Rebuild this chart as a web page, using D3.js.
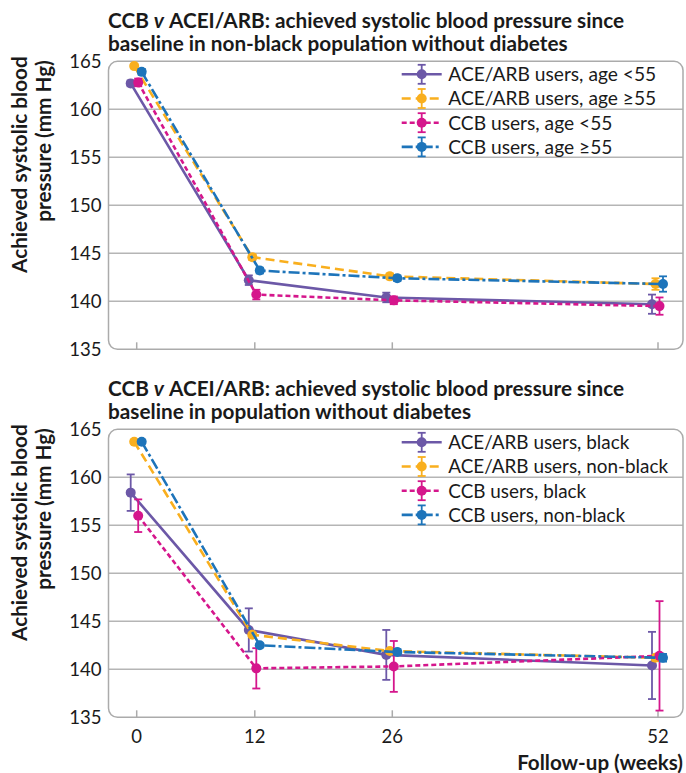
<!DOCTYPE html>
<html>
<head>
<meta charset="utf-8">
<script src="https://cdn.jsdelivr.net/npm/d3@7"></script>
<style>
  html, body { margin: 0; padding: 0; background: #fff; }
  svg { display: block; }
</style>
</head>
<body>
<script>
// ---------- data ----------
const weeks = [0, 12, 26, 52];
const yTicks = [135, 140, 145, 150, 155, 160, 165];

// Panel 1: non-black population without diabetes, by age
const topNames = ["ACE/ARB users, age <55", "ACE/ARB users, age \u226555", "CCB users, age <55", "CCB users, age \u226555"];
const topAceYoung     = [162.7, 142.2, 140.4, 139.7];
const topAceYoungErr  = [0.3, 0.5, 0.5, 1.0];
const topAceOld       = [164.5, 144.6, 142.6, 141.8];
const topAceOldErr    = [0.2, 0.3, 0.3, 0.6];
const topCcbYoung     = [162.8, 140.7, 140.1, 139.5];
const topCcbYoungErr  = [0.4, 0.5, 0.4, 0.9];
const topCcbOld       = [163.9, 143.2, 142.4, 141.8];
const topCcbOldErr    = [0.3, 0.3, 0.3, 0.8];

// Panel 2: population without diabetes, by ethnicity
const botNames = ["ACE/ARB users, black", "ACE/ARB users, non-black", "CCB users, black", "CCB users, non-black"];
const botAceBlack        = [158.4, 144.1, 141.5, 140.4];
const botAceBlackErr     = [1.9, 2.25, 2.6, 3.5];
const botAceNonBlack     = [163.7, 143.6, 141.9, 141.2];
const botAceNonBlackErr  = [0.2, 0.2, 0.2, 0.3];
const botCcbBlack        = [156.0, 140.1, 140.3, 141.4];
const botCcbBlackErr     = [1.7, 2.1, 2.65, 5.7];
const botCcbNonBlack     = [163.7, 142.5, 141.8, 141.2];
const botCcbNonBlackErr  = [0.2, 0.2, 0.3, 0.4];

const titleStart = ["CCB", "v", "ACEI/ARB: achieved systolic blood pressure since"];
const topTitle = "baseline in non-black population without diabetes";
const botTitle = "baseline in population without diabetes";
const yTitle = ["Achieved systolic blood", "pressure (mm Hg)"];
const xTitle = "Follow-up (weeks)";

// ---------- styles ----------
const styles = [
  { color: "#6C58A7", dash: null,       dodge: -5.5 },
  { color: "#F9AF1E", dash: "9,5",      dodge: -2 },
  { color: "#D5168C", dash: "5,3",      dodge: 2 },
  { color: "#1D74BA", dash: "11,3,3,3", dodge: 5.5 }
];

const panels = [
  { top: 61.3, title2: topTitle, names: topNames,
    means: [topAceYoung, topAceOld, topCcbYoung, topCcbOld],
    errs:  [topAceYoungErr, topAceOldErr, topCcbYoungErr, topCcbOldErr], xLabels: false },
  { top: 429.3, title2: botTitle, names: botNames,
    means: [botAceBlack, botAceNonBlack, botCcbBlack, botCcbNonBlack],
    errs:  [botAceBlackErr, botAceNonBlackErr, botCcbBlackErr, botCcbNonBlackErr], xLabels: true }
];

const W = 686, H = 773;
const FONT = "Lato, 'Open Sans', sans-serif";
const svg = d3.select("body").append("svg")
  .attr("width", W).attr("height", H)
  .style("font-family", FONT);

const boxL = 108.5, boxR = 683;
const x = d3.scaleLinear().domain(weeks).range([136.2, 254.3, 391.8, 657.5]);

function fit(sel, target) {
  const w = sel.node().getComputedTextLength();
  const fs = parseFloat(sel.attr("font-size"));
  return fs * target / w;
}
function bbW(sel) { return sel.node().getComputedTextLength(); }

panels.forEach((p, pi) => {
  const y = d3.scaleLinear().domain([135, 165]).range([p.top + 288, p.top]);
  const g = svg.append("g");

  // title (three pieces so the italic "v" stays real text)
  const tg = g.append("g").attr("font-weight", 700).attr("fill", "#1a1a1a");
  const base = 17.6;
  const a = tg.append("text").attr("y", p.top - 33).attr("font-size", base).text(titleStart[0]);
  const b = tg.append("text").attr("y", p.top - 33).attr("font-size", base).attr("font-style", "italic").text(titleStart[1]);
  const c = tg.append("text").attr("y", p.top - 33).attr("font-size", base).text(titleStart[2]);
  const gap = 5;
  const total = bbW(a) + bbW(b) + bbW(c);
  const tfs = base * (516 - 2 * gap) / total;
  [a, b, c].forEach(s => s.attr("font-size", tfs));
  a.attr("x", 108);
  b.attr("x", 108 + bbW(a) + gap);
  c.attr("x", 108 + bbW(a) + gap + bbW(b) + gap);
  tg.append("text").attr("x", 108).attr("y", p.top - 10.5)
    .attr("font-size", tfs).text(p.title2);

  // y axis title
  const yg = g.append("g").attr("font-weight", 700).attr("fill", "#1a1a1a");
  yg.append("text")
    .attr("transform", `translate(27.3,${p.top + 211.7}) rotate(-90)`)
    .attr("font-size", tfs).text(yTitle[0]);
  yg.append("text")
    .attr("transform", `translate(50.7,${p.top + 160.4}) rotate(-90)`)
    .attr("font-size", tfs).text(yTitle[1]);

  // gridlines
  g.selectAll(".grid").data(yTicks.filter(t => t > 135 && t < 165)).join("line")
    .attr("x1", boxL).attr("x2", boxR)
    .attr("y1", d => y(d)).attr("y2", d => y(d))
    .attr("stroke", "#b5b5b5").attr("stroke-width", 1.5);

  // box
  g.append("rect").attr("x", boxL).attr("y", y(165))
    .attr("width", boxR - boxL).attr("height", y(135) - y(165))
    .attr("rx", 9).attr("fill", "none").attr("stroke", "#ababab").attr("stroke-width", 1.5);

  // y axis labels
  const ya = g.append("g").attr("transform", `translate(${boxL},0)`)
    .call(d3.axisLeft(y).tickValues(yTicks).tickSize(0).tickPadding(7).tickFormat(d3.format("d")));
  ya.select(".domain").remove();
  ya.selectAll("text").attr("font-size", 18.6).attr("font-family", FONT).attr("fill", "#1a1a1a");

  // x axis
  const xa = g.append("g").attr("transform", `translate(0,${y(135)})`)
    .call(d3.axisBottom(x).tickValues(weeks).tickSize(-7).tickPadding(12.5)
      .tickFormat(p.xLabels ? d3.format("d") : () => ""));
  xa.select(".domain").remove();
  xa.selectAll("line").attr("stroke", "#ababab").attr("stroke-width", 1.5);
  xa.selectAll("text").attr("font-size", 18.5).attr("font-family", FONT).attr("fill", "#1a1a1a");

  // series
  p.means.forEach((vals, si) => {
    const st = styles[si];
    const errs = p.errs[si];
    const sg = g.append("g");
    const line = d3.line().x((d, i) => x(weeks[i]) + st.dodge).y(d => y(d));
    sg.append("path").datum(vals).attr("d", line)
      .attr("fill", "none").attr("stroke", st.color).attr("stroke-width", 2.6)
      .attr("stroke-dasharray", st.dash);
    const pts = vals.map((v, i) => ({ w: weeks[i], v, e: errs[i] }));
    sg.selectAll(".eb").data(pts).join("line")
      .attr("x1", d => x(d.w) + st.dodge).attr("x2", d => x(d.w) + st.dodge)
      .attr("y1", d => y(d.v - d.e)).attr("y2", d => y(d.v + d.e))
      .attr("stroke", st.color).attr("stroke-width", 1.8);
    [-1, 1].forEach(sgn => {
      sg.selectAll(".cap" + sgn).data(pts).join("line")
        .attr("x1", d => x(d.w) + st.dodge - 4).attr("x2", d => x(d.w) + st.dodge + 4)
        .attr("y1", d => y(d.v + sgn * d.e)).attr("y2", d => y(d.v + sgn * d.e))
        .attr("stroke", st.color).attr("stroke-width", 1.8);
    });
    sg.selectAll("circle").data(pts).join("circle")
      .attr("cx", d => x(d.w) + st.dodge).attr("cy", d => y(d.v)).attr("r", 5)
      .attr("fill", st.color);
  });

  // legend
  const lg = g.append("g");
  const rowY = i => p.top + 13 + i * 24.2;
  let lfs = 18.9;
  p.names.forEach((name, i) => {
    const st = styles[i];
    const cy = rowY(i);
    lg.append("line").attr("x1", 401.7).attr("x2", 441.7).attr("y1", cy).attr("y2", cy)
      .attr("stroke", st.color).attr("stroke-width", 2.6).attr("stroke-dasharray", st.dash);
    lg.append("line").attr("x1", 421.7).attr("x2", 421.7).attr("y1", cy - 9.5).attr("y2", cy + 9.5)
      .attr("stroke", st.color).attr("stroke-width", 1.8);
    [-9.5, 9.5].forEach(o => lg.append("line").attr("x1", 417.7).attr("x2", 425.7)
      .attr("y1", cy + o).attr("y2", cy + o).attr("stroke", st.color).attr("stroke-width", 1.8));
    lg.append("circle").attr("cx", 421.7).attr("cy", cy).attr("r", 5).attr("fill", st.color);
    const t = lg.append("text").attr("x", 448.3).attr("y", cy).attr("dy", "0.36em")
      .attr("font-size", lfs).attr("fill", "#1a1a1a").text(name);
    if (pi === 0 && i === 0) { lfs = fit(t, 208); t.attr("font-size", lfs); }
  });
});

// x axis title
const xt = svg.append("text").attr("x", 683).attr("y", 769.5).attr("text-anchor", "end")
  .attr("font-size", 18).attr("font-weight", 700).attr("fill", "#1a1a1a").text(xTitle);
xt.attr("font-size", fit(xt, 166));
</script>
</body>
</html>
